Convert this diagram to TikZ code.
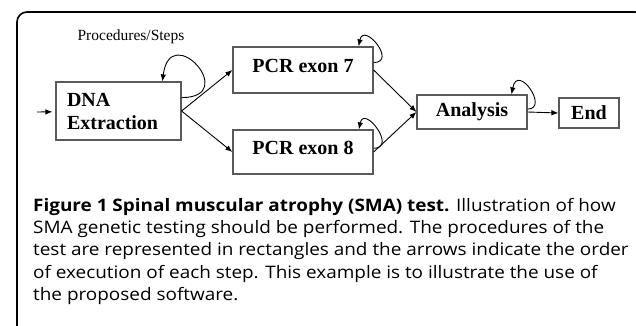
\documentclass[tikz,border=0pt]{standalone}
\usepackage{fontspec}
\setmainfont{Liberation Serif}
\newfontfamily\capfont[FakeStretch=1.1]{Open Sans}
\usepackage{tikz}
\usetikzlibrary{arrows.meta}

\tikzset{
	stepbox/.style={draw=black!65, line width=1.2pt, inner sep=0pt,
		font={\fontsize{20}{23}\selectfont\bfseries}},
	flow/.style={-{Latex[length=7pt,width=5.5pt]}, line width=0.9pt},
}

\begin{document}
\begin{tikzpicture}[x=1pt,y=1pt]
		\useasboundingbox (0,0) rectangle (636,-326);
		\draw[line width=1.6pt, rounded corners=10pt] (17,-345) -- (17,-12) -- (645,-12) -- (645,-345);
		%
		\node (title) at (131,-37) {\fontsize{15.5}{18}\selectfont Procedures/Steps};
		\node[stepbox, minimum width=125pt, minimum height=58pt, inner xsep=11pt, text width=103pt, align=left] (dna) at (118.5,-111) {DNA\\Extraction};
		\node[stepbox, minimum width=140pt, minimum height=46pt, text depth=8pt] (pcr7) at (303,-70) {PCR exon 7};
		\node[stepbox, minimum width=140pt, minimum height=44pt, text depth=8pt] (pcr8) at (303,-152) {PCR exon 8};
		\node[stepbox, minimum width=110pt, minimum height=34pt] (ana) at (472,-112) {Analysis};
		\node[stepbox, minimum width=60pt, minimum height=30pt] (end) at (589,-113) {End};
		\coordinate (start) at (37,-112);
		%
		\path[flow]
		(start) edge[shorten >=3pt] (dna)
		(dna.east) edge (pcr7.west)
		(dna.east) edge (pcr8.west)
		(pcr7.east) edge (ana.west)
		(pcr8.east) edge (ana.west)
		(ana.east) edge (end.west);
		%
		\draw[flow] (dna.12) .. controls +(59,0) and +(8,62) .. (dna.34);
		\draw[flow] (pcr7.6) .. controls +(24,0) and +(5,25) .. (pcr7.23);
		\draw[flow] (pcr8.3) .. controls +(24,0) and +(5,25) .. (pcr8.22);
		\draw[flow] (ana.3) .. controls +(22,0) and +(6,32) .. (ana.24);
		%
		\node[anchor=north west, inner sep=0pt, align=left, font={\capfont\fontsize{17.2}{22.3}\selectfont}] (caption) at (33,-198)
		{\textbf{Figure 1 Spinal muscular atrophy (SMA) test.} Illustration of how\\
		SMA genetic testing should be performed. The procedures of the\\
		test are represented in rectangles and the arrows indicate the order\\
		of execution of each step. This example is to illustrate the use of\\
		the proposed software.};
\end{tikzpicture}
\end{document}
